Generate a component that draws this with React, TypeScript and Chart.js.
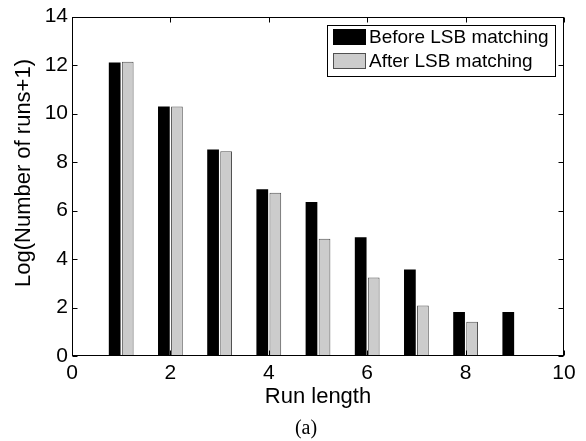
import React, { useEffect, useRef } from "react";
import { Chart, registerables } from "chart.js";

Chart.register(...registerables);

const runLengths = [1, 2, 3, 4, 5, 6, 7, 8, 9];
const beforeValues = [12.11, 10.29, 8.52, 6.88, 6.35, 4.9, 3.57, 1.81, 1.81];
const afterValues = [12.14, 10.29, 8.45, 6.73, 4.84, 3.24, 2.08, 1.41, 0];
const xTickValues = [0, 2, 4, 6, 8, 10];
const yTickValues = [0, 2, 4, 6, 8, 10, 12, 14];
const seriesNames = ["Before LSB matching", "After LSB matching"];
const xTitle = "Run length";
const yTitle = "Log(Number of runs+1)";
const caption = "(a)";

const SANS = '"Liberation Sans", Arial, sans-serif';
const SERIF = '"Liberation Serif", "Times New Roman", serif';
const BLACK = "#000000";
const GRAY = "#cccccc";
const GRAY_BORDER = "#505050";

const decorPlugin = {
  id: "decor",
  afterDatasetsDraw(chart: any) {
    const { ctx, chartArea: a, scales } = chart;
    ctx.save();
    const L = Math.round(a.left) + 0.5;
    const R = Math.round(a.right) - 0.5;
    const T = Math.round(a.top) + 0.5;
    const B = Math.round(a.bottom) - 0.5;
    ctx.strokeStyle = "#000";
    ctx.lineWidth = 1;
    const line = (x1: number, y1: number, x2: number, y2: number) => {
      ctx.beginPath();
      ctx.moveTo(x1, y1);
      ctx.lineTo(x2, y2);
      ctx.stroke();
    };
    // inward ticks
    const tl = 5;
    xTickValues.forEach((v) => {
      const px = Math.round(scales.x.getPixelForValue(v)) + 0.5;
      line(px, B, px, B - tl);
      line(px, T, px, T + tl);
    });
    yTickValues.forEach((v) => {
      const py = Math.round(scales.y.getPixelForValue(v)) + 0.5;
      line(L, py, L + tl, py);
      line(R, py, R - tl, py);
    });
    // frame
    ctx.strokeRect(L, T, R - L, B - T);

    // legend
    const lx = 327.5, ly = 25.5, lw = 228, lh = 51;
    ctx.fillStyle = "#fff";
    ctx.fillRect(lx, ly, lw, lh);
    ctx.strokeStyle = "#000";
    ctx.strokeRect(lx, ly, lw, lh);
    const fills = [BLACK, GRAY];
    const borders = [BLACK, GRAY_BORDER];
    const rowsY = [29, 53];
    ctx.font = `19px ${SANS}`;
    ctx.textBaseline = "middle";
    ctx.textAlign = "left";
    seriesNames.forEach((name, i) => {
      ctx.fillStyle = fills[i];
      ctx.fillRect(333, rowsY[i], 33, 16);
      ctx.strokeStyle = borders[i];
      ctx.strokeRect(333.5, rowsY[i] + 0.5, 32, 15);
      ctx.fillStyle = "#000";
      ctx.fillText(name, 369, rowsY[i] + 9);
    });

    // axis titles
    ctx.fillStyle = "#000";
    ctx.font = `22px ${SANS}`;
    ctx.textAlign = "center";
    ctx.textBaseline = "middle";
    ctx.fillText(xTitle, (a.left + a.right) / 2, 397);
    ctx.save();
    ctx.translate(24, 173);
    ctx.rotate(-Math.PI / 2);
    ctx.fillText(yTitle, 0, 0);
    ctx.restore();

    // caption
    ctx.font = `20px ${SERIF}`;
    ctx.fillText(caption, 306, 429);
    ctx.restore();
  },
};

export default function App() {
  const ref = useRef<HTMLCanvasElement | null>(null);
  useEffect(() => {
    if (!ref.current) return;
    const chart = new Chart(ref.current, {
      type: "bar",
      data: {
        datasets: [
          {
            label: seriesNames[0],
            data: runLengths.map((x, i) => ({ x, y: beforeValues[i] })),
            backgroundColor: BLACK,
            borderColor: BLACK,
            borderWidth: 0,
          },
          {
            label: seriesNames[1],
            data: runLengths.map((x, i) => ({ x, y: afterValues[i] })),
            backgroundColor: GRAY,
            borderColor: GRAY_BORDER,
            borderWidth: 1,
          },
        ],
      },
      options: {
        animation: false,
        responsive: false,
        devicePixelRatio: 1,
        barPercentage: 0.9,
        categoryPercentage: 0.53,
        layout: { padding: { top: 16, right: 22, left: 0, bottom: 55 } },
        plugins: {
          legend: { display: false },
          tooltip: { enabled: false },
        },
        scales: {
          x: {
            type: "linear",
            offset: false,
            min: 0,
            max: 10,
            grid: { display: false, drawTicks: false, offset: false },
            border: { display: false },
            afterFit: (s: any) => {
              s.height = 30;
            },
            ticks: {
              stepSize: 2,
              padding: 5,
              color: "#000",
              font: { family: SANS, size: 21 },
              maxRotation: 0,
            },
          },
          y: {
            min: 0,
            max: 14,
            grid: { display: false, drawTicks: false },
            border: { display: false },
            afterFit: (s: any) => {
              s.width = 72;
            },
            ticks: {
              stepSize: 2,
              padding: 4,
              color: "#000",
              font: { family: SANS, size: 21 },
            },
          },
        },
      },
      plugins: [decorPlugin],
    } as any);
    return () => chart.destroy();
  }, []);
  return (
    <div style={{ position: "absolute", left: 0, top: 0, width: 586, height: 441, background: "#fff" }}>
      <canvas ref={ref} width={586} height={441} style={{ display: "block" }} />
    </div>
  );
}
